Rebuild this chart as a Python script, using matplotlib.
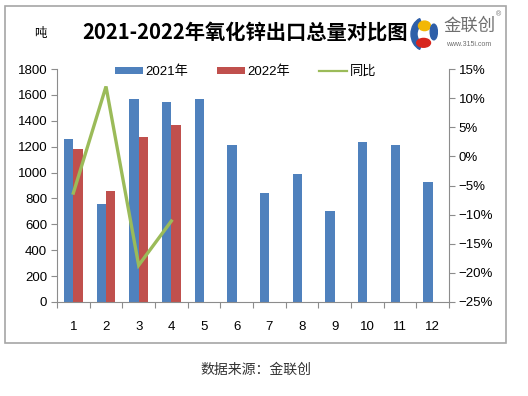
import numpy as np
import matplotlib.pyplot as plt
from matplotlib.patches import Rectangle, Ellipse, Wedge
from matplotlib.ticker import FixedLocator, FuncFormatter

plt.rcParams['font.family'] = ['Liberation Sans', 'Noto Sans CJK SC', 'DejaVu Sans']

months = ['1', '2', '3', '4', '5', '6', '7', '8', '9', '10', '11', '12']
exports_2021 = [1260, 760, 1570, 1545, 1570, 1210, 840, 985, 700, 1235, 1210, 925]
exports_2022 = [1180, 855, 1275, 1370]
yoy = [-6.3, 12.0, -18.7, -11.1]

blue = '#4F81BD'
red = '#C0504D'
green = '#9BBB59'
gray = '#8C8C8C'

fig = plt.figure(figsize=(5.28, 3.96), dpi=100)
fig.patch.set_facecolor('white')

# outer frame
fig.patches.append(Rectangle((5 / 528, 1 - 343 / 396), 501 / 528, 337 / 396,
                             transform=fig.transFigure, fill=False,
                             edgecolor='#A6A6A6', linewidth=1.2))

ax = fig.add_axes([57 / 528, 1 - 302 / 396, 392 / 528, 233 / 396])
x = np.arange(1, 13)
w = 0.285
ax.bar(x - w / 2, exports_2021, width=w, color=blue, label='2021年', zorder=2)
ax.bar(x[:len(exports_2022)] + w / 2, exports_2022, width=w, color=red,
       label='2022年', zorder=2)
ax.set_xlim(0.5, 12.5)
ax.set_ylim(0, 1800)
ax.set_yticks(range(0, 1801, 200))
ax.xaxis.set_major_locator(FixedLocator(np.arange(0.5, 13, 1)))
ax.xaxis.set_major_formatter(FuncFormatter(lambda v, p: ''))
ax.xaxis.set_minor_locator(FixedLocator(x))
ax.set_xticklabels(months, minor=True)
ax.tick_params(axis='x', which='minor', length=0, pad=14, labelsize=9.5)
ax.tick_params(axis='x', which='major', length=4, color=gray, direction='out')
ax.tick_params(axis='y', length=4, color=gray, direction='out', labelsize=9.5, pad=3)
for s in ['top', 'right']:
    ax.spines[s].set_visible(False)
for s in ['left', 'bottom']:
    ax.spines[s].set_color(gray)

ax2 = ax.twinx()
line, = ax2.plot(x[:len(yoy)], yoy, color=green, linewidth=2.4, label='同比',
                 solid_joinstyle='miter')
ax2.set_ylim(-25, 15)
ax2.set_yticks(range(-25, 16, 5))
ax2.yaxis.set_major_formatter(FuncFormatter(lambda v, p: f'{int(v)}%'.replace('-', '−')))
ax2.tick_params(axis='y', length=4, color=gray, direction='out', labelsize=9.5, pad=3)
for s in ['top', 'left', 'bottom']:
    ax2.spines[s].set_visible(False)
ax2.spines['right'].set_color(gray)

h1, l1 = ax.get_legend_handles_labels()
leg = ax.legend(h1 + [line], l1 + ['同比'], loc='upper left', ncol=3,
                bbox_to_anchor=(0.138, 1.032), frameon=False, fontsize=9.5,
                handlelength=2.1, handleheight=0.4, columnspacing=2.2,
                handletextpad=0.2, borderaxespad=0, borderpad=0.3)
leg.get_lines()[0].set_linewidth(1.6)

fig.text(82 / 528, 1 - 33 / 396, '2021-2022年氧化锌出口总量对比图',
         fontsize=14.6, fontweight='bold', family=['Noto Sans CJK SC'],
         va='center', ha='left')
fig.text(40 / 528, 1 - 34 / 396, '吨', fontsize=9, family=['Noto Sans CJK SC'],
         va='center', ha='center')
fig.text(256 / 528, 1 - 370 / 396, '数据来源：金联创', fontsize=10,
         family=['Noto Sans CJK SC'], va='center', ha='center', color='#333333')

# logo
lg = fig.add_axes([408 / 528, 1 - 51 / 396, 30 / 528, 34 / 396])
lg.set_xlim(0, 1)
lg.set_ylim(0, 1)
lg.axis('off')
lg.add_patch(Wedge((0.6, 0.5), 0.5, 115, 245, width=0.2, color='#2E5FA8'))
lg.add_patch(Ellipse((0.55, 0.74), 0.4, 0.28, color='#F2B705'))
lg.add_patch(Ellipse((0.52, 0.24), 0.46, 0.26, color='#D7261E'))
lg.add_patch(Ellipse((0.86, 0.56), 0.24, 0.46, color='#2E5FA8'))
fig.text(470 / 528, 1 - 26 / 396, '金联创', fontsize=12.5, color='#6E6E6E',
         family=['Noto Sans CJK SC'], va='center', ha='center')
fig.text(499 / 528, 1 - 15 / 396, '®', fontsize=5, color='#6E6E6E',
         va='center', ha='center')
fig.text(469 / 528, 1 - 44 / 396, 'www.315i.com', fontsize=5, color='#6E6E6E',
         va='center', ha='center')

fig.savefig('out.png', dpi=100)
